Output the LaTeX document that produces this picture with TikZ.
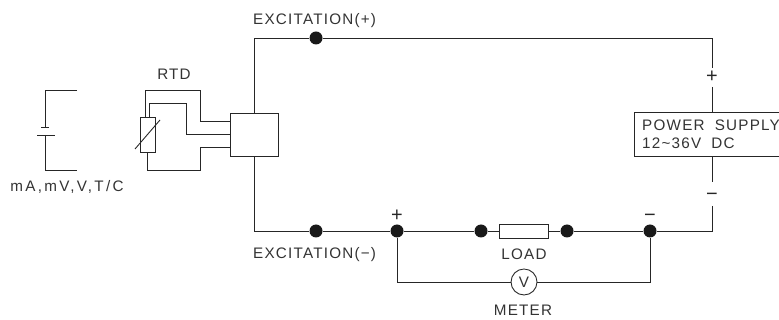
\documentclass[tikz,border=0pt]{standalone}
\usepackage{fontspec}
\setmainfont[LetterSpace=8]{Liberation Sans}
\usepackage{tikz}
\usetikzlibrary{positioning}

\newcommand{\minussign}{\raisebox{-5.4pt}[0pt][0pt]{−}}

\tikzset{
    wire/.style={line width=0.75pt, draw=black!85},
    dot/.style={circle, fill=black!90, draw=none, minimum size=0.39cm, inner sep=0pt},
    box/.style={rectangle, wire, fill=white, inner sep=0pt},
    sign/.style={inner sep=0pt, outer sep=0pt, text=black!85, font=\fontsize{17}{17}\selectfont},
    label/.style={inner sep=0pt, font=\fontsize{13}{13}\selectfont, text=black!80}
}

\begin{document}
\begin{tikzpicture}[x=0.03cm, y=-0.03cm]

    \useasboundingbox (0, 0) rectangle (779, 320);

    \node[label, anchor=west] (excp) at (253, 20.5) {EXCITATION(+)};
    \node[label, anchor=west] (excm) at (253, 254.5) {EXCITATION(−)};
    \node[label] (rtdlabel) at (174, 74) {RTD};
    \node[label] (srclabel) at (67, 187) {\addfontfeature{LetterSpace=15}mA,mV,V,T/C};
    \node[label] (loadlabel) at (524, 254) {LOAD};
    \node[label] (meterlabel) at (523, 310) {METER};

    \node[box, minimum width=1.44cm, minimum height=1.29cm] (tx) at (254, 134.5) {};
    \node[box, minimum width=0.45cm, minimum height=1.05cm] (rtd) at (147.5, 134.5) {};
    \node[box, minimum width=1.47cm, minimum height=0.42cm] (load) at (523.5, 231) {};
    \node[circle, wire, fill=white, minimum size=0.78cm, inner sep=0pt, label] (meter) at (524, 282) {V};

    \node[dot] (d1) at (316, 38) {};
    \node[dot] (d2) at (316, 231) {};
    \node[dot] (d3) at (397, 231) {};
    \node[dot] (d4) at (481, 231) {};
    \node[dot] (d5) at (567, 231) {};
    \node[dot] (d6) at (650, 231) {};

    \node[sign, minimum height=0.57cm] (supplus) at (712, 77.5) {\raisebox{1.5pt}{+}};
    \node[sign, minimum height=0.72cm] (supminus) at (712, 194) {\minussign};
    \node[sign] (dplus) at (397, 216) {+};
    \node[sign] (dminus) at (650, 215) {\minussign};

    \node[anchor=north west, inner xsep=0pt, inner ysep=0pt, text width=4.35cm, minimum height=1.32cm, align=left, font=\fontsize{13}{15.5}\selectfont, text=black!80] (supply) at (634, 112) {\hspace*{0.24cm}POWER\ \ SUPPLY\\\hspace*{0.24cm}12\textasciitilde 36V\ \ DC};
    \draw[wire] (supply.north east) -- (supply.north west) -- (supply.south west) -- (supply.south east);

    % loop through the supply
    \draw[wire] (tx.north) |- (d1) -- ++(396, 0) -- (supplus.north);
    \draw[wire] (supplus.south) -- (supplus.south |- supply.north);
    \draw[wire] (supplus.south |- supply.south) -- (supminus.north);
    \draw[wire] (supminus.south) |- (d6);
    \draw[wire] (tx.south) |- (d2) -- (d3) -- (d4) -- (load) -- (d5) -- (d6);
    \draw[wire] (d3) |- (meter) -- (meter -| d6) -- (d6);

    % rtd leads
    \coordinate (txa) at (230, 121);
    \coordinate (txb) at (230, 134.5);
    \coordinate (txc) at (230, 147.5);
    \coordinate (rtda) at (145, 117);
    \coordinate (rtdb) at (149, 117);
    \draw[wire] (rtda) -- (145, 90) -- (200, 90) -- (200, 121) -- (txa);
    \draw[wire] (rtdb) -- (149, 103) -- (186, 103) -- (186, 134.5) -- (txb);
    \draw[wire] (rtd.south) -- (147.5, 170) -- (200, 170) -- (200, 147.5) -- (txc);
    \draw[wire] (135, 149) -- (160, 120);

    % source
    \draw[wire] (77, 90) -- (45, 90) -- (45, 127);
    \draw[wire] (41, 127) -- (49, 127);
    \draw[wire] (37, 135) -- (55, 135);
    \draw[wire] (45, 135) -- (45, 170) -- (77, 170);

\end{tikzpicture}
\end{document}
